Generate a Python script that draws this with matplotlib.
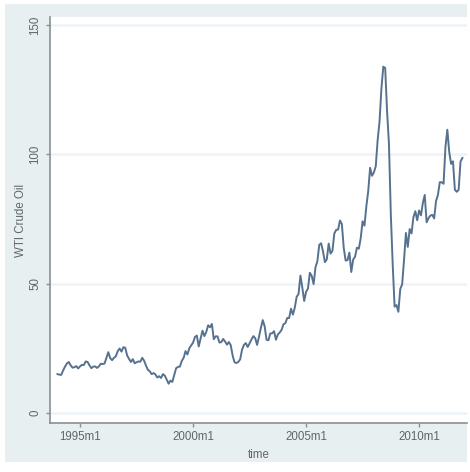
import matplotlib.pyplot as plt
from matplotlib.patches import Rectangle
import numpy as np

# monthly WTI crude oil price, 1994m1 - 2011m12
wti_1994 = [15.0, 14.8, 14.7, 16.4, 17.9, 19.1, 19.7, 18.4, 17.5, 17.7, 18.1, 17.2]
wti_1995 = [18.0, 18.6, 18.5, 19.9, 19.7, 18.4, 17.3, 17.9, 18.0, 17.4, 18.0, 19.0]
wti_1996 = [18.9, 19.1, 21.3, 23.5, 21.2, 20.4, 21.3, 21.9, 23.9, 24.9, 23.7, 25.4]
wti_1997 = [25.2, 22.2, 20.9, 19.7, 20.8, 19.2, 19.6, 19.9, 19.8, 21.3, 20.2, 18.3]
wti_1998 = [16.7, 16.1, 15.0, 15.4, 14.9, 13.7, 14.2, 13.5, 15.0, 14.4, 12.9, 11.3]
wti_1999 = [12.5, 12.0, 14.7, 17.3, 17.8, 17.9, 20.1, 21.3, 23.9, 22.6, 25.0, 26.1]
wti_2000 = [27.2, 29.4, 29.9, 25.7, 28.8, 31.8, 29.7, 31.3, 33.9, 33.1, 34.4, 28.5]
wti_2001 = [29.6, 29.6, 27.2, 27.4, 28.6, 27.6, 26.4, 27.4, 26.2, 22.2, 19.6, 19.3]
wti_2002 = [19.7, 20.7, 24.4, 26.3, 27.0, 25.5, 26.9, 28.4, 29.7, 28.9, 26.3, 29.4]
wti_2003 = [32.9, 35.9, 33.5, 28.3, 28.1, 30.7, 30.8, 31.6, 28.3, 30.3, 31.1, 32.1]
wti_2004 = [34.3, 34.7, 36.7, 36.7, 40.3, 38.0, 40.7, 44.9, 46.0, 53.1, 48.5, 43.3]
wti_2005 = [46.8, 48.1, 54.2, 53.0, 49.8, 56.3, 58.7, 65.0, 65.6, 62.4, 58.3, 59.4]
wti_2006 = [65.5, 61.6, 62.7, 69.4, 70.8, 70.9, 74.4, 73.0, 63.8, 58.9, 59.1, 62.0]
wti_2007 = [54.5, 59.3, 60.4, 63.9, 63.5, 67.5, 74.1, 72.4, 79.9, 85.8, 94.8, 91.7]
wti_2008 = [93.0, 95.4, 105.5, 112.6, 125.4, 133.9, 133.4, 116.7, 104.1, 76.6, 57.3, 41.1]
wti_2009 = [41.7, 39.1, 47.9, 49.7, 59.0, 69.6, 64.2, 71.1, 69.4, 75.7, 78.0, 74.5]
wti_2010 = [78.3, 76.4, 81.2, 84.3, 73.7, 75.3, 76.3, 76.6, 75.2, 81.9, 84.3, 89.2]
wti_2011 = [89.2, 88.6, 102.9, 109.5, 100.9, 96.3, 97.3, 86.3, 85.5, 86.3, 97.2, 98.6]

years = list(range(1994, 2012))
wti = (wti_1994 + wti_1995 + wti_1996 + wti_1997 + wti_1998 + wti_1999 +
       wti_2000 + wti_2001 + wti_2002 + wti_2003 + wti_2004 + wti_2005 +
       wti_2006 + wti_2007 + wti_2008 + wti_2009 + wti_2010 + wti_2011)
time = [y + m / 12 for y in years for m in range(12)]

xticks = [1995, 2000, 2005, 2010]
xtick_labels = ["1995m1", "2000m1", "2005m1", "2010m1"]
yticks = [0, 50, 100, 150]

plt.rcParams['font.family'] = ['Liberation Sans', 'DejaVu Sans']

bg = '#e7eff1'
grid_col = '#eef4f6'
axis_col = '#8a8f94'
text_col = '#60656a'

fig = plt.figure(figsize=(4.7, 4.72), dpi=100, facecolor='white')
# stata-style outer graph region
fig.patches.append(Rectangle((5 / 470, 10 / 472), 462 / 470, 458 / 472,
                             transform=fig.transFigure, facecolor=bg,
                             edgecolor='none', zorder=-10))

ax = fig.add_axes([50 / 470, 49 / 472, 417 / 470, 406 / 472])
ax.set_facecolor('white')

for yv in yticks:
    ax.axhline(yv, color=grid_col, lw=1.8, zorder=1)

ax.plot(time, wti, color='#56728f', lw=1.4, zorder=3)

ax.set_xlim(1993.67, 2012.12)
ax.set_ylim(-3.9, 153.1)

ax.set_xticks(xticks)
ax.set_xticklabels(xtick_labels)
ax.set_yticks(yticks)
ax.set_yticklabels([str(v) for v in yticks], rotation=90, va='center')

for s in ['top', 'right']:
    ax.spines[s].set_visible(False)
for s in ['left', 'bottom']:
    ax.spines[s].set_color(axis_col)
    ax.spines[s].set_linewidth(1.2)

ax.tick_params(axis='both', colors=axis_col, labelcolor=text_col,
               labelsize=8.3, length=3, width=1, pad=3)
ax.set_ylabel("WTI Crude Oil", fontsize=8.3, color=text_col, labelpad=2)
ax.set_xlabel("time", fontsize=8.3, color=text_col, labelpad=4)

fig.savefig("out.png", dpi=100, facecolor='white')
